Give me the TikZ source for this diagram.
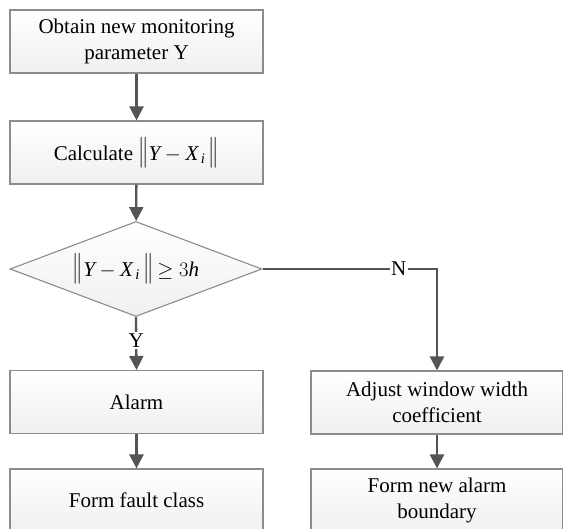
\documentclass[tikz,border=0pt]{standalone}
\usepackage{amsmath}
\usepackage{fontspec}
\setmainfont{Liberation Serif}
\usetikzlibrary{shapes.geometric,arrows.meta}

% tall double bar for the norm
\newcommand{\nbar}{\scalebox{1}[1.5]{$\|$}}
% norm expression set with serif italic letters
\newcommand{\normYX}{\nbar$\textit{Y}-\textit{X}_{\,\textit{i}}$\,\nbar}

\begin{document}
\begin{tikzpicture}[x=1bp,y=-1bp,
  every node/.style={font=\fontsize{21bp}{26bp}\selectfont},
  stepbox/.style={draw=black!45, line width=1.1bp, top color=white, bottom color=black!6,
    minimum width=253bp, minimum height=63bp, inner sep=0pt, align=center},
  decision/.style={diamond, draw=black!45, line width=1.1bp, top color=white, bottom color=black!6,
    minimum width=252bp, minimum height=95bp, aspect=2.65, inner sep=0pt},
  flow/.style={draw=black!67, line width=2.3bp, -{Triangle[length=14bp,width=14bp]}},
  branch/.style={fill=white, inner sep=1.5bp}]
  \useasboundingbox (0,0) rectangle (563,529);

  \node[stepbox] (obtain) at (136.5,41.5) {Obtain new monitoring\\parameter Y};
  \node[stepbox] (calc) at (136.5,152.5) {Calculate \normYX};
  \node[decision] (test) at (136,269) {};
  \node (testtext) at (test.center) {\normYX$\,\geq 3$\textit{h}};
  \node[stepbox] (alarm) at (136.5,402) {Alarm};
  \node[stepbox] (fault) at (136.5,500.5) {Form fault class};
  \node[stepbox, minimum width=252bp] (adjust) at (437,402.5) {Adjust window width\\coefficient};
  \node[stepbox, minimum width=252bp] (bound) at (437,500.5) {Form new alarm\\boundary};

  \draw[flow] (obtain) -- (calc);
  \draw[flow] (calc) -- (test);
  \draw[flow] (test.south) -- node[branch, pos=0.45] (ylab) {Y} (alarm.north);
  \draw[flow] (test.east) -- node[branch, pos=0.78] (nlab) {N} (test.east -| adjust.north) -- (adjust.north);
  \draw[flow] (alarm) -- (fault);
  \draw[flow] (adjust) -- (bound);
\end{tikzpicture}
\end{document}
